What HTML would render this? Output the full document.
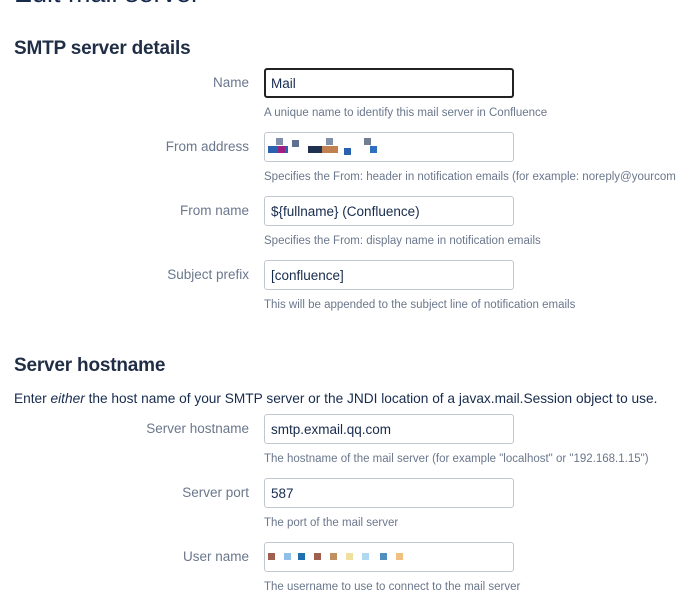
<!DOCTYPE html>
<html><head><style>
body{margin:0;width:686px;height:602px;overflow:hidden;background:#fff;font-family:"Liberation Sans",sans-serif;position:relative;color:#172b4d}
.a{position:absolute;white-space:nowrap}
h1{position:absolute;left:14px;top:-22px;margin:0;font-size:27px;font-weight:normal;color:#172b4d}
.h{font-size:19px;font-weight:bold;left:14px;color:#1f2d45;letter-spacing:-0.2px}
.l{right:437px;font-size:13.5px;color:#6b778c;text-align:right}
.i{left:264px;width:248px;height:28px;border:1px solid #c1c7d0;border-radius:3px;box-sizing:content-box}
.v{left:271px;font-size:13.5px;color:#172b4d}
.t{left:264px;font-size:11.5px;color:#6b778c}
.px{position:absolute;width:7px;height:7px}
</style></head><body>
<h1>Edit mail server</h1>
<div class="a h" style="top:38px">SMTP server details</div>
<div class="a l" style="top:75px">Name</div>
<div class="a i" style="top:68px;border:2px solid #222;width:246px;height:26px"></div>
<div class="a v" style="top:76px">Mail</div>
<div class="a t" style="top:107px">A unique name to identify this mail server in Confluence</div>
<div class="a l" style="top:139px">From address</div>
<div class="a i" style="top:132px"></div>
<div class="px" style="left:268px;top:146px;background:#2a62b0;width:20px"></div>
<div class="px" style="left:276px;top:138px;background:#8090a8"></div>
<div class="px" style="left:278px;top:146px;background:#a02080"></div>
<div class="px" style="left:292px;top:140px;background:#607090"></div>
<div class="px" style="left:308px;top:146px;background:#203050;width:14px"></div>
<div class="px" style="left:326px;top:138px;background:#8090a8"></div>
<div class="px" style="left:322px;top:146px;background:#c08050;width:16px"></div>
<div class="px" style="left:344px;top:148px;background:#2a62b0"></div>
<div class="px" style="left:364px;top:138px;background:#708090"></div>
<div class="px" style="left:370px;top:146px;background:#3070c0"></div>
<div class="a t" style="top:171px">Specifies the From: header in notification emails (for example: noreply@yourcom</div>
<div class="a l" style="top:203px">From name</div>
<div class="a i" style="top:196px"></div>
<div class="a v" style="top:204px">${fullname} (Confluence)</div>
<div class="a t" style="top:235px">Specifies the From: display name in notification emails</div>
<div class="a l" style="top:267px">Subject prefix</div>
<div class="a i" style="top:260px"></div>
<div class="a v" style="top:268px">[confluence]</div>
<div class="a t" style="top:299px">This will be appended to the subject line of notification emails</div>
<div class="a h" style="top:355px">Server hostname</div>
<div class="a" style="left:14px;top:391px;font-size:13.7px;color:#172b4d">Enter <i>either</i> the host name of your SMTP server or the JNDI location of a javax.mail.Session object to use.</div>
<div class="a l" style="top:421px">Server hostname</div>
<div class="a i" style="top:414px"></div>
<div class="a v" style="top:422px">smtp.exmail.qq.com</div>
<div class="a t" style="top:453px">The hostname of the mail server (for example "localhost" or "192.168.1.15")</div>
<div class="a l" style="top:485px">Server port</div>
<div class="a i" style="top:478px"></div>
<div class="a v" style="top:486px">587</div>
<div class="a t" style="top:517px">The port of the mail server</div>
<div class="a l" style="top:549px">User name</div>
<div class="a i" style="top:542px"></div>
<div class="px" style="left:268px;top:553px;background:#a06050"></div>
<div class="px" style="left:284px;top:553px;background:#90c0e8"></div>
<div class="px" style="left:298px;top:553px;background:#2070b0"></div>
<div class="px" style="left:314px;top:553px;background:#a06050"></div>
<div class="px" style="left:330px;top:553px;background:#c09060"></div>
<div class="px" style="left:346px;top:553px;background:#f0e0a0"></div>
<div class="px" style="left:362px;top:553px;background:#b0d8f0"></div>
<div class="px" style="left:380px;top:553px;background:#5090c0"></div>
<div class="px" style="left:396px;top:553px;background:#f0c080"></div>
<div class="a t" style="top:581px">The username to use to connect to the mail server</div>
</body></html>
